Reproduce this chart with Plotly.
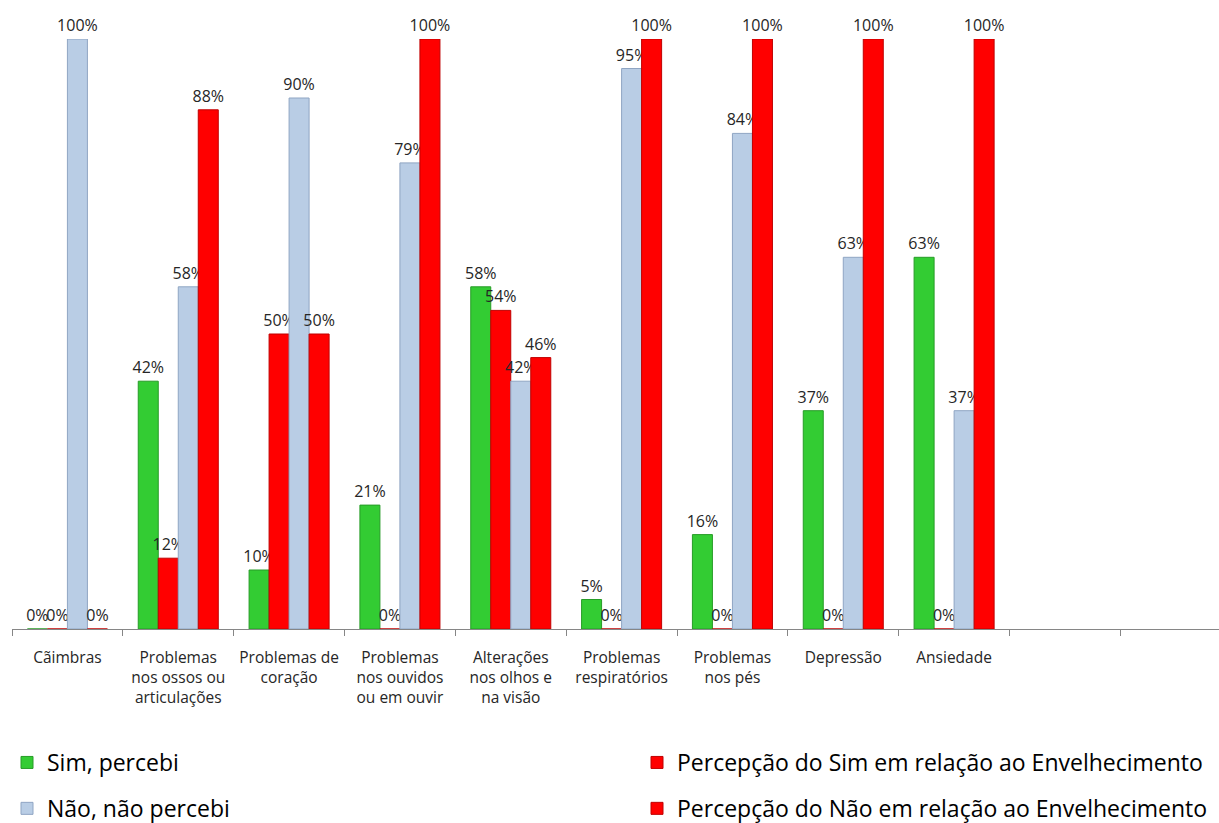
import plotly.graph_objects as go

categories = [
    "Cãimbras",
    "Problemas<br>nos ossos ou<br>articulações",
    "Problemas de<br>coração",
    "Problemas<br>nos ouvidos<br>ou em ouvir",
    "Alterações<br>nos olhos e<br>na visão",
    "Problemas<br>respiratórios",
    "Problemas<br>nos pés",
    "Depressão",
    "Ansiedade",
    " ",
    "  ",
]

sim = [0, 42, 10, 21, 58, 5, 16, 37, 63, None, None]
sim_env = [0, 12, 50, 0, 54, 0, 0, 0, 0, None, None]
nao = [100, 58, 90, 79, 42, 95, 84, 63, 37, None, None]
nao_env = [0, 88, 50, 100, 46, 100, 100, 100, 100, None, None]

series = [
    ("Sim, percebi", sim, "#33CC33", "#279C27", "legend"),
    ("Percepção do Sim em relação ao Envelhecimento", sim_env, "#FF0000", "#C00000", "legend2"),
    ("Não, não percebi", nao, "#B9CDE5", "#8FA5C3", "legend"),
    ("Percepção do Não em relação ao Envelhecimento", nao_env, "#FF0000", "#C00000", "legend2"),
]

FONT = "Open Sans"
fig = go.Figure()
for i, (name, vals, fill, edge, leg) in enumerate(series):
    fig.add_trace(go.Bar(
        x=categories, y=vals, name=name,
        marker=dict(color=fill, line=dict(color=edge, width=1)),
        text=[None if v is None else f"{v}%" for v in vals],
        textposition="outside", constraintext="none", cliponaxis=False,
        textfont=dict(family=FONT, size=16, color="#262626"),
        legend=leg, legendgroup=f"g{i}",
    ))

fig.update_layout(
    width=1219, height=823,
    margin=dict(l=12, r=0, t=39, b=194, autoexpand=False),
    paper_bgcolor="white", plot_bgcolor="white",
    barmode="group", bargap=0.278, bargroupgap=0,
    font=dict(family=FONT, size=15, color="#262626"),
    xaxis=dict(
        type="category", categoryorder="array", categoryarray=categories,
        range=[-0.5, 10.39], tickson="boundaries", ticks="outside", ticklen=6,
        tickcolor="#868686", showline=True, linecolor="#868686", linewidth=1,
        showgrid=False, ticklabelstandoff=14, tickangle=0, automargin=False,
        tickfont=dict(family=FONT, size=15.5, color="#262626"),
    ),
    yaxis=dict(range=[0, 100], visible=False, showgrid=False),
    legend=dict(
        xref="container", yref="container", x=7 / 1219, y=1 - 741 / 823,
        xanchor="left", yanchor="top", tracegroupgap=13,
        font=dict(family=FONT, size=23, color="#000000"), bgcolor="rgba(0,0,0,0)",
    ),
    legend2=dict(
        xref="container", yref="container", x=637 / 1219, y=1 - 741 / 823,
        xanchor="left", yanchor="top", tracegroupgap=13,
        font=dict(family=FONT, size=23, color="#000000"), bgcolor="rgba(0,0,0,0)",
    ),
)

fig.write_html("out.html")
